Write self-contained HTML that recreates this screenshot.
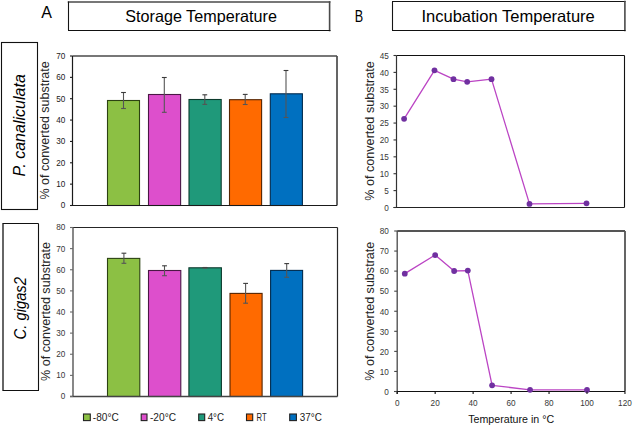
<!DOCTYPE html>
<html><head><meta charset="utf-8"><style>
html,body{margin:0;padding:0;background:#fff;}
svg{display:block;font-family:"Liberation Sans", sans-serif;}
</style></head><body>
<svg width="633" height="426" viewBox="0 0 633 426">
<rect width="633" height="426" fill="#fff"/>
<text x="41.20" y="17.50" font-size="16" fill="#000" text-anchor="start" >A</text>
<text x="354.80" y="21.60" font-size="16" fill="#000" text-anchor="start" textLength="8.4" lengthAdjust="spacingAndGlyphs">B</text>
<line x1="68.50" y1="2.00" x2="329.60" y2="2.00" stroke="#4a4a4a" stroke-width="1.6" stroke-linecap="square"/>
<line x1="329.60" y1="2.00" x2="329.60" y2="30.50" stroke="#4a4a4a" stroke-width="1.6" stroke-linecap="square"/>
<line x1="68.50" y1="1.50" x2="68.50" y2="30.50" stroke="#151515" stroke-width="1.1" stroke-linecap="butt"/>
<line x1="68.00" y1="30.50" x2="330.50" y2="30.50" stroke="#111" stroke-width="1.1" stroke-linecap="butt"/>
<line x1="392.00" y1="1.50" x2="625.50" y2="1.50" stroke="#151515" stroke-width="1.1" stroke-linecap="butt"/>
<line x1="392.50" y1="1.50" x2="392.50" y2="30.50" stroke="#151515" stroke-width="1.1" stroke-linecap="butt"/>
<line x1="624.90" y1="1.50" x2="624.90" y2="30.50" stroke="#4a4a4a" stroke-width="1.6" stroke-linecap="square"/>
<line x1="392.00" y1="30.50" x2="625.50" y2="30.50" stroke="#111" stroke-width="1.1" stroke-linecap="butt"/>
<text x="125.30" y="22.00" font-size="16.5" fill="#000" text-anchor="start" textLength="151.6" lengthAdjust="spacingAndGlyphs">Storage Temperature</text>
<text x="421.40" y="21.90" font-size="16.5" fill="#000" text-anchor="start" textLength="173.4" lengthAdjust="spacingAndGlyphs">Incubation Temperature</text>
<rect x="1.50" y="42.50" width="36.00" height="167.00" fill="none" stroke="#111" stroke-width="1.1"/>
<line x1="3.00" y1="223.50" x2="3.00" y2="390.50" stroke="#333" stroke-width="1.5" stroke-linecap="butt"/>
<line x1="2.50" y1="223.50" x2="38.50" y2="223.50" stroke="#111" stroke-width="1.1" stroke-linecap="butt"/>
<line x1="38.50" y1="223.50" x2="38.50" y2="390.50" stroke="#111" stroke-width="1.1" stroke-linecap="butt"/>
<line x1="2.50" y1="390.50" x2="39.00" y2="390.50" stroke="#111" stroke-width="1.1" stroke-linecap="butt"/>
<text transform="translate(25.2,176.4) rotate(-90)" font-size="17" font-style="italic" fill="#000" textLength="102.2" lengthAdjust="spacingAndGlyphs">P. canaliculata</text>
<text transform="translate(26.2,339.5) rotate(-90)" font-size="17" font-style="italic" fill="#000" textLength="62.5" lengthAdjust="spacingAndGlyphs">C. gigas2</text>
<text transform="translate(49.4,199.5) rotate(-90)" font-size="12.5" fill="#262626" textLength="138.2" lengthAdjust="spacingAndGlyphs">% of converted substrate</text>
<text transform="translate(50.0,381) rotate(-90)" font-size="12.5" fill="#262626" textLength="139.1" lengthAdjust="spacingAndGlyphs">% of converted substrate</text>
<text transform="translate(373.6,200.8) rotate(-90)" font-size="12.5" fill="#262626" textLength="139.6" lengthAdjust="spacingAndGlyphs">% of converted substrate</text>
<text transform="translate(373.6,380.7) rotate(-90)" font-size="12.5" fill="#262626" textLength="139" lengthAdjust="spacingAndGlyphs">% of converted substrate</text>
<line x1="72.50" y1="56.00" x2="337.00" y2="56.00" stroke="#4a4a4a" stroke-width="1.7" stroke-linecap="butt"/>
<line x1="337.00" y1="56.00" x2="337.00" y2="205.50" stroke="#4a4a4a" stroke-width="1.7" stroke-linecap="butt"/>
<rect x="107.50" y="100.50" width="32.00" height="105.00" fill="#8CC044" stroke="#2c4212" stroke-width="1.1"/>
<rect x="148.50" y="94.50" width="32.10" height="111.00" fill="#DD4FCC" stroke="#4a1845" stroke-width="1.1"/>
<rect x="189.00" y="99.50" width="32.20" height="106.00" fill="#1F997A" stroke="#0c3a2c" stroke-width="1.1"/>
<rect x="229.50" y="99.70" width="32.10" height="105.80" fill="#FF6A00" stroke="#552400" stroke-width="1.1"/>
<rect x="270.30" y="93.80" width="32.10" height="111.70" fill="#0070C0" stroke="#002a4d" stroke-width="1.1"/>
<line x1="123.50" y1="92.50" x2="123.50" y2="108.50" stroke="#555" stroke-width="1.1" stroke-linecap="butt"/>
<line x1="121.10" y1="92.50" x2="125.90" y2="92.50" stroke="#3a3a3a" stroke-width="1.1" stroke-linecap="butt"/>
<line x1="121.10" y1="108.50" x2="125.90" y2="108.50" stroke="#555" stroke-width="1.1" stroke-linecap="butt"/>
<line x1="164.30" y1="77.50" x2="164.30" y2="112.30" stroke="#555" stroke-width="1.1" stroke-linecap="butt"/>
<line x1="161.90" y1="77.50" x2="166.70" y2="77.50" stroke="#3a3a3a" stroke-width="1.1" stroke-linecap="butt"/>
<line x1="161.90" y1="112.30" x2="166.70" y2="112.30" stroke="#555" stroke-width="1.1" stroke-linecap="butt"/>
<line x1="204.80" y1="94.80" x2="204.80" y2="104.40" stroke="#555" stroke-width="1.1" stroke-linecap="butt"/>
<line x1="202.40" y1="94.80" x2="207.20" y2="94.80" stroke="#3a3a3a" stroke-width="1.1" stroke-linecap="butt"/>
<line x1="202.40" y1="104.40" x2="207.20" y2="104.40" stroke="#555" stroke-width="1.1" stroke-linecap="butt"/>
<line x1="245.20" y1="94.40" x2="245.20" y2="104.50" stroke="#555" stroke-width="1.1" stroke-linecap="butt"/>
<line x1="242.80" y1="94.40" x2="247.60" y2="94.40" stroke="#3a3a3a" stroke-width="1.1" stroke-linecap="butt"/>
<line x1="242.80" y1="104.50" x2="247.60" y2="104.50" stroke="#555" stroke-width="1.1" stroke-linecap="butt"/>
<line x1="286.00" y1="70.50" x2="286.00" y2="117.50" stroke="#555" stroke-width="1.1" stroke-linecap="butt"/>
<line x1="283.60" y1="70.50" x2="288.40" y2="70.50" stroke="#3a3a3a" stroke-width="1.1" stroke-linecap="butt"/>
<line x1="283.60" y1="117.50" x2="288.40" y2="117.50" stroke="#555" stroke-width="1.1" stroke-linecap="butt"/>
<line x1="72.50" y1="56.00" x2="72.50" y2="205.50" stroke="#1a1a1a" stroke-width="1.2" stroke-linecap="butt"/>
<line x1="70.00" y1="205.50" x2="337.00" y2="205.50" stroke="#1a1a1a" stroke-width="1.2" stroke-linecap="butt"/>
<line x1="70.00" y1="205.50" x2="72.50" y2="205.50" stroke="#1a1a1a" stroke-width="1.1" stroke-linecap="butt"/>
<text x="65.30" y="208.40" font-size="8.2" fill="#222" text-anchor="end" >0</text>
<line x1="70.00" y1="184.14" x2="72.50" y2="184.14" stroke="#1a1a1a" stroke-width="1.1" stroke-linecap="butt"/>
<text x="65.30" y="187.04" font-size="8.2" fill="#222" text-anchor="end" >10</text>
<line x1="70.00" y1="162.79" x2="72.50" y2="162.79" stroke="#1a1a1a" stroke-width="1.1" stroke-linecap="butt"/>
<text x="65.30" y="165.69" font-size="8.2" fill="#222" text-anchor="end" >20</text>
<line x1="70.00" y1="141.43" x2="72.50" y2="141.43" stroke="#1a1a1a" stroke-width="1.1" stroke-linecap="butt"/>
<text x="65.30" y="144.33" font-size="8.2" fill="#222" text-anchor="end" >30</text>
<line x1="70.00" y1="120.07" x2="72.50" y2="120.07" stroke="#1a1a1a" stroke-width="1.1" stroke-linecap="butt"/>
<text x="65.30" y="122.97" font-size="8.2" fill="#222" text-anchor="end" >40</text>
<line x1="70.00" y1="98.71" x2="72.50" y2="98.71" stroke="#1a1a1a" stroke-width="1.1" stroke-linecap="butt"/>
<text x="65.30" y="101.61" font-size="8.2" fill="#222" text-anchor="end" >50</text>
<line x1="70.00" y1="77.36" x2="72.50" y2="77.36" stroke="#1a1a1a" stroke-width="1.1" stroke-linecap="butt"/>
<text x="65.30" y="80.26" font-size="8.2" fill="#222" text-anchor="end" >60</text>
<line x1="70.00" y1="56.00" x2="72.50" y2="56.00" stroke="#1a1a1a" stroke-width="1.1" stroke-linecap="butt"/>
<text x="65.30" y="58.90" font-size="8.2" fill="#222" text-anchor="end" >70</text>
<line x1="73.00" y1="227.50" x2="337.50" y2="227.50" stroke="#262626" stroke-width="1.2" stroke-linecap="butt"/>
<line x1="337.50" y1="227.50" x2="337.50" y2="396.50" stroke="#262626" stroke-width="1.2" stroke-linecap="butt"/>
<rect x="107.50" y="258.40" width="32.30" height="138.10" fill="#8CC044" stroke="#2c4212" stroke-width="1.1"/>
<rect x="148.50" y="270.50" width="32.30" height="126.00" fill="#DD4FCC" stroke="#4a1845" stroke-width="1.1"/>
<rect x="188.90" y="267.80" width="32.50" height="128.70" fill="#1F997A" stroke="#0c3a2c" stroke-width="1.1"/>
<rect x="230.00" y="293.40" width="32.10" height="103.10" fill="#FF6A00" stroke="#552400" stroke-width="1.1"/>
<rect x="270.60" y="270.40" width="32.00" height="126.10" fill="#0070C0" stroke="#002a4d" stroke-width="1.1"/>
<line x1="123.90" y1="253.20" x2="123.90" y2="263.30" stroke="#555" stroke-width="1.1" stroke-linecap="butt"/>
<line x1="121.50" y1="253.20" x2="126.30" y2="253.20" stroke="#3a3a3a" stroke-width="1.1" stroke-linecap="butt"/>
<line x1="121.50" y1="263.30" x2="126.30" y2="263.30" stroke="#555" stroke-width="1.1" stroke-linecap="butt"/>
<line x1="164.50" y1="265.80" x2="164.50" y2="275.70" stroke="#555" stroke-width="1.1" stroke-linecap="butt"/>
<line x1="162.10" y1="265.80" x2="166.90" y2="265.80" stroke="#3a3a3a" stroke-width="1.1" stroke-linecap="butt"/>
<line x1="162.10" y1="275.70" x2="166.90" y2="275.70" stroke="#555" stroke-width="1.1" stroke-linecap="butt"/>
<line x1="205.00" y1="267.50" x2="205.00" y2="268.10" stroke="#555" stroke-width="1.1" stroke-linecap="butt"/>
<line x1="202.60" y1="267.50" x2="207.40" y2="267.50" stroke="#3a3a3a" stroke-width="1.1" stroke-linecap="butt"/>
<line x1="202.60" y1="268.10" x2="207.40" y2="268.10" stroke="#555" stroke-width="1.1" stroke-linecap="butt"/>
<line x1="245.60" y1="283.40" x2="245.60" y2="303.20" stroke="#555" stroke-width="1.1" stroke-linecap="butt"/>
<line x1="243.20" y1="283.40" x2="248.00" y2="283.40" stroke="#3a3a3a" stroke-width="1.1" stroke-linecap="butt"/>
<line x1="243.20" y1="303.20" x2="248.00" y2="303.20" stroke="#555" stroke-width="1.1" stroke-linecap="butt"/>
<line x1="286.70" y1="263.60" x2="286.70" y2="277.30" stroke="#555" stroke-width="1.1" stroke-linecap="butt"/>
<line x1="284.30" y1="263.60" x2="289.10" y2="263.60" stroke="#3a3a3a" stroke-width="1.1" stroke-linecap="butt"/>
<line x1="284.30" y1="277.30" x2="289.10" y2="277.30" stroke="#555" stroke-width="1.1" stroke-linecap="butt"/>
<line x1="73.00" y1="227.50" x2="73.00" y2="396.50" stroke="#6a6a6a" stroke-width="1.6" stroke-linecap="butt"/>
<line x1="70.00" y1="396.50" x2="337.50" y2="396.50" stroke="#444" stroke-width="1.3" stroke-linecap="butt"/>
<line x1="70.00" y1="396.50" x2="73.00" y2="396.50" stroke="#6a6a6a" stroke-width="1.1" stroke-linecap="butt"/>
<text x="65.30" y="399.40" font-size="8.2" fill="#383838" text-anchor="end" >0</text>
<line x1="70.00" y1="375.38" x2="73.00" y2="375.38" stroke="#6a6a6a" stroke-width="1.1" stroke-linecap="butt"/>
<text x="65.30" y="378.27" font-size="8.2" fill="#383838" text-anchor="end" >10</text>
<line x1="70.00" y1="354.25" x2="73.00" y2="354.25" stroke="#6a6a6a" stroke-width="1.1" stroke-linecap="butt"/>
<text x="65.30" y="357.15" font-size="8.2" fill="#383838" text-anchor="end" >20</text>
<line x1="70.00" y1="333.12" x2="73.00" y2="333.12" stroke="#6a6a6a" stroke-width="1.1" stroke-linecap="butt"/>
<text x="65.30" y="336.02" font-size="8.2" fill="#383838" text-anchor="end" >30</text>
<line x1="70.00" y1="312.00" x2="73.00" y2="312.00" stroke="#6a6a6a" stroke-width="1.1" stroke-linecap="butt"/>
<text x="65.30" y="314.90" font-size="8.2" fill="#383838" text-anchor="end" >40</text>
<line x1="70.00" y1="290.88" x2="73.00" y2="290.88" stroke="#6a6a6a" stroke-width="1.1" stroke-linecap="butt"/>
<text x="65.30" y="293.77" font-size="8.2" fill="#383838" text-anchor="end" >50</text>
<line x1="70.00" y1="269.75" x2="73.00" y2="269.75" stroke="#6a6a6a" stroke-width="1.1" stroke-linecap="butt"/>
<text x="65.30" y="272.65" font-size="8.2" fill="#383838" text-anchor="end" >60</text>
<line x1="70.00" y1="248.62" x2="73.00" y2="248.62" stroke="#6a6a6a" stroke-width="1.1" stroke-linecap="butt"/>
<text x="65.30" y="251.53" font-size="8.2" fill="#383838" text-anchor="end" >70</text>
<line x1="70.00" y1="227.50" x2="73.00" y2="227.50" stroke="#6a6a6a" stroke-width="1.1" stroke-linecap="butt"/>
<text x="65.30" y="230.40" font-size="8.2" fill="#383838" text-anchor="end" >80</text>
<rect x="83.50" y="414.00" width="6.80" height="6.60" fill="#8CC044" stroke="#222" stroke-width="1.1"/>
<text x="92.80" y="420.80" font-size="10.3" fill="#222" text-anchor="start" textLength="25.9" lengthAdjust="spacingAndGlyphs">-80°C</text>
<rect x="141.20" y="414.00" width="5.80" height="6.60" fill="#DD4FCC" stroke="#222" stroke-width="1.1"/>
<text x="150.00" y="420.80" font-size="10.3" fill="#222" text-anchor="start" textLength="26.0" lengthAdjust="spacingAndGlyphs">-20°C</text>
<rect x="198.70" y="414.00" width="6.00" height="6.60" fill="#1F997A" stroke="#222" stroke-width="1.1"/>
<text x="207.70" y="420.80" font-size="10.3" fill="#222" text-anchor="start" textLength="16.4" lengthAdjust="spacingAndGlyphs">4°C</text>
<rect x="246.50" y="414.00" width="6.20" height="6.60" fill="#FF6A00" stroke="#222" stroke-width="1.1"/>
<text x="256.60" y="420.80" font-size="10.3" fill="#222" text-anchor="start" textLength="10.1" lengthAdjust="spacingAndGlyphs">RT</text>
<rect x="289.70" y="414.00" width="6.70" height="6.60" fill="#0070C0" stroke="#222" stroke-width="1.1"/>
<text x="299.70" y="420.80" font-size="10.3" fill="#222" text-anchor="start" textLength="22.1" lengthAdjust="spacingAndGlyphs">37°C</text>
<line x1="396.50" y1="55.50" x2="624.50" y2="55.50" stroke="#111" stroke-width="1.1" stroke-linecap="butt"/>
<line x1="624.50" y1="55.50" x2="624.50" y2="207.50" stroke="#111" stroke-width="1.1" stroke-linecap="butt"/>
<line x1="396.50" y1="55.50" x2="396.50" y2="207.50" stroke="#333" stroke-width="1.2" stroke-linecap="butt"/>
<line x1="393.50" y1="207.50" x2="624.50" y2="207.50" stroke="#222" stroke-width="1.2" stroke-linecap="butt"/>
<line x1="393.50" y1="207.50" x2="396.50" y2="207.50" stroke="#333" stroke-width="1.1" stroke-linecap="butt"/>
<text x="388.80" y="210.80" font-size="8.2" fill="#383838" text-anchor="end" >0</text>
<line x1="393.50" y1="190.61" x2="396.50" y2="190.61" stroke="#333" stroke-width="1.1" stroke-linecap="butt"/>
<text x="388.80" y="193.91" font-size="8.2" fill="#383838" text-anchor="end" >5</text>
<line x1="393.50" y1="173.72" x2="396.50" y2="173.72" stroke="#333" stroke-width="1.1" stroke-linecap="butt"/>
<text x="388.80" y="177.02" font-size="8.2" fill="#383838" text-anchor="end" >10</text>
<line x1="393.50" y1="156.83" x2="396.50" y2="156.83" stroke="#333" stroke-width="1.1" stroke-linecap="butt"/>
<text x="388.80" y="160.13" font-size="8.2" fill="#383838" text-anchor="end" >15</text>
<line x1="393.50" y1="139.94" x2="396.50" y2="139.94" stroke="#333" stroke-width="1.1" stroke-linecap="butt"/>
<text x="388.80" y="143.24" font-size="8.2" fill="#383838" text-anchor="end" >20</text>
<line x1="393.50" y1="123.06" x2="396.50" y2="123.06" stroke="#333" stroke-width="1.1" stroke-linecap="butt"/>
<text x="388.80" y="126.36" font-size="8.2" fill="#383838" text-anchor="end" >25</text>
<line x1="393.50" y1="106.17" x2="396.50" y2="106.17" stroke="#333" stroke-width="1.1" stroke-linecap="butt"/>
<text x="388.80" y="109.47" font-size="8.2" fill="#383838" text-anchor="end" >30</text>
<line x1="393.50" y1="89.28" x2="396.50" y2="89.28" stroke="#333" stroke-width="1.1" stroke-linecap="butt"/>
<text x="388.80" y="92.58" font-size="8.2" fill="#383838" text-anchor="end" >35</text>
<line x1="393.50" y1="72.39" x2="396.50" y2="72.39" stroke="#333" stroke-width="1.1" stroke-linecap="butt"/>
<text x="388.80" y="75.69" font-size="8.2" fill="#383838" text-anchor="end" >40</text>
<line x1="393.50" y1="55.50" x2="396.50" y2="55.50" stroke="#333" stroke-width="1.1" stroke-linecap="butt"/>
<text x="388.80" y="58.80" font-size="8.2" fill="#383838" text-anchor="end" >45</text>
<path d="M404.10,118.80 L434.50,70.36 L453.50,79.14 L467.18,81.85 L491.50,79.14 L529.50,203.89 L586.50,203.31" fill="none" stroke="#BB44C4" stroke-width="1.3" stroke-linejoin="round"/>
<circle cx="404.10" cy="118.80" r="2.9" fill="#7030A0"/>
<circle cx="434.50" cy="70.36" r="2.9" fill="#7030A0"/>
<circle cx="453.50" cy="79.14" r="2.9" fill="#7030A0"/>
<circle cx="467.18" cy="81.85" r="2.9" fill="#7030A0"/>
<circle cx="491.50" cy="79.14" r="2.9" fill="#7030A0"/>
<circle cx="529.50" cy="203.89" r="2.9" fill="#7030A0"/>
<circle cx="586.50" cy="203.31" r="2.9" fill="#7030A0"/>
<line x1="397.20" y1="231.00" x2="625.00" y2="231.00" stroke="#555" stroke-width="1.8" stroke-linecap="butt"/>
<line x1="625.00" y1="231.00" x2="625.00" y2="391.50" stroke="#555" stroke-width="1.8" stroke-linecap="butt"/>
<line x1="397.20" y1="231.00" x2="397.20" y2="394.00" stroke="#484848" stroke-width="1.3" stroke-linecap="butt"/>
<line x1="394.20" y1="391.50" x2="625.00" y2="391.50" stroke="#111" stroke-width="1.1" stroke-linecap="butt"/>
<line x1="394.20" y1="391.50" x2="397.20" y2="391.50" stroke="#484848" stroke-width="1.1" stroke-linecap="butt"/>
<text x="388.80" y="394.80" font-size="8.2" fill="#383838" text-anchor="end" >0</text>
<line x1="394.20" y1="371.44" x2="397.20" y2="371.44" stroke="#484848" stroke-width="1.1" stroke-linecap="butt"/>
<text x="388.80" y="374.74" font-size="8.2" fill="#383838" text-anchor="end" >10</text>
<line x1="394.20" y1="351.38" x2="397.20" y2="351.38" stroke="#484848" stroke-width="1.1" stroke-linecap="butt"/>
<text x="388.80" y="354.68" font-size="8.2" fill="#383838" text-anchor="end" >20</text>
<line x1="394.20" y1="331.31" x2="397.20" y2="331.31" stroke="#484848" stroke-width="1.1" stroke-linecap="butt"/>
<text x="388.80" y="334.61" font-size="8.2" fill="#383838" text-anchor="end" >30</text>
<line x1="394.20" y1="311.25" x2="397.20" y2="311.25" stroke="#484848" stroke-width="1.1" stroke-linecap="butt"/>
<text x="388.80" y="314.55" font-size="8.2" fill="#383838" text-anchor="end" >40</text>
<line x1="394.20" y1="291.19" x2="397.20" y2="291.19" stroke="#484848" stroke-width="1.1" stroke-linecap="butt"/>
<text x="388.80" y="294.49" font-size="8.2" fill="#383838" text-anchor="end" >50</text>
<line x1="394.20" y1="271.12" x2="397.20" y2="271.12" stroke="#484848" stroke-width="1.1" stroke-linecap="butt"/>
<text x="388.80" y="274.43" font-size="8.2" fill="#383838" text-anchor="end" >60</text>
<line x1="394.20" y1="251.06" x2="397.20" y2="251.06" stroke="#484848" stroke-width="1.1" stroke-linecap="butt"/>
<text x="388.80" y="254.36" font-size="8.2" fill="#383838" text-anchor="end" >70</text>
<line x1="394.20" y1="231.00" x2="397.20" y2="231.00" stroke="#484848" stroke-width="1.1" stroke-linecap="butt"/>
<text x="388.80" y="234.30" font-size="8.2" fill="#383838" text-anchor="end" >80</text>
<path d="M404.79,273.65 L435.16,255.07 L454.14,271.00 L467.81,270.60 L492.10,385.34 L530.06,389.85 L587.00,389.96" fill="none" stroke="#BB44C4" stroke-width="1.3" stroke-linejoin="round"/>
<circle cx="404.79" cy="273.65" r="2.9" fill="#7030A0"/>
<circle cx="435.16" cy="255.07" r="2.9" fill="#7030A0"/>
<circle cx="454.14" cy="271.00" r="2.9" fill="#7030A0"/>
<circle cx="467.81" cy="270.60" r="2.9" fill="#7030A0"/>
<circle cx="492.10" cy="385.34" r="2.9" fill="#7030A0"/>
<circle cx="530.06" cy="389.85" r="2.9" fill="#7030A0"/>
<circle cx="587.00" cy="389.96" r="2.9" fill="#7030A0"/>
<line x1="397.20" y1="391.50" x2="397.20" y2="394.00" stroke="#111" stroke-width="1.1" stroke-linecap="butt"/>
<text x="397.20" y="406.40" font-size="8.2" fill="#383838" text-anchor="middle" >0</text>
<line x1="435.16" y1="391.50" x2="435.16" y2="394.00" stroke="#111" stroke-width="1.1" stroke-linecap="butt"/>
<text x="435.16" y="406.40" font-size="8.2" fill="#383838" text-anchor="middle" >20</text>
<line x1="473.12" y1="391.50" x2="473.12" y2="394.00" stroke="#111" stroke-width="1.1" stroke-linecap="butt"/>
<text x="473.12" y="406.40" font-size="8.2" fill="#383838" text-anchor="middle" >40</text>
<line x1="511.08" y1="391.50" x2="511.08" y2="394.00" stroke="#111" stroke-width="1.1" stroke-linecap="butt"/>
<text x="511.08" y="406.40" font-size="8.2" fill="#383838" text-anchor="middle" >60</text>
<line x1="549.04" y1="391.50" x2="549.04" y2="394.00" stroke="#111" stroke-width="1.1" stroke-linecap="butt"/>
<text x="549.04" y="406.40" font-size="8.2" fill="#383838" text-anchor="middle" >80</text>
<line x1="587.00" y1="391.50" x2="587.00" y2="394.00" stroke="#111" stroke-width="1.1" stroke-linecap="butt"/>
<text x="587.00" y="406.40" font-size="8.2" fill="#383838" text-anchor="middle" >100</text>
<line x1="624.96" y1="391.50" x2="624.96" y2="394.00" stroke="#111" stroke-width="1.1" stroke-linecap="butt"/>
<text x="624.96" y="406.40" font-size="8.2" fill="#383838" text-anchor="middle" >120</text>
<text x="468.20" y="423.00" font-size="10.6" fill="#111" text-anchor="start" textLength="86" lengthAdjust="spacingAndGlyphs">Temperature in °C</text>
</svg>
</body></html>
